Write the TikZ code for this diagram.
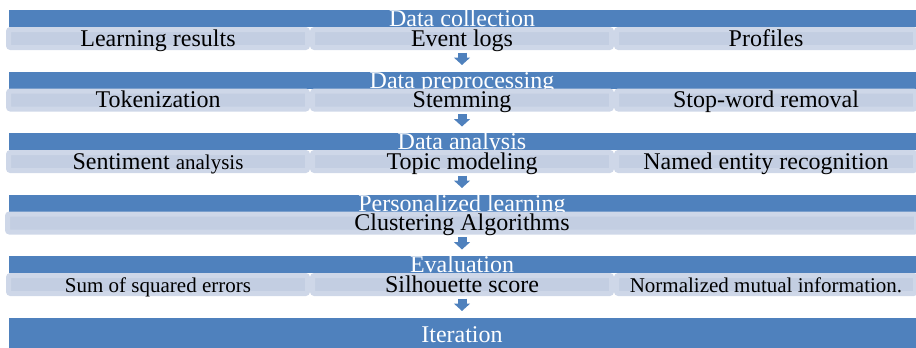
\documentclass[tikz,border=0pt]{standalone}
\usepackage{fontspec}
\setmainfont{Liberation Serif}
\usetikzlibrary{positioning, arrows.meta}

\definecolor{hdblue}{RGB}{79,129,189}
\definecolor{subfill}{RGB}{195,206,226}
\definecolor{subedge}{RGB}{206,215,232}

\newcommand{\smalltxt}{\fontsize{21}{22}\selectfont}

\begin{document}
\begin{tikzpicture}[x=1pt,y=-1pt,node distance=0pt]

		\tikzset{head st/.style={rectangle, fill=hdblue, text=white,
								minimum width=907pt, minimum height=17pt,
								inner sep=0pt, outer sep=0pt,
								text height=16.5pt, text depth=0.5pt,
								font=\fontsize{24}{24}\selectfont},
				 item st/.style={rectangle, rounded corners=2pt,
								draw=subedge, fill=subfill, line width=5pt,
								minimum width=299pt, minimum height=18pt,
								inner sep=0pt, text height=16.5pt, text depth=1.5pt,
								font=\fontsize{24}{24}\selectfont},
				 wide st/.style={item st, minimum width=909pt},
				 down arr/.style={-{Triangle[width=16pt,length=7.5pt]},
								line width=9pt, draw=hdblue}}

		\useasboundingbox (0,0) rectangle (916,348);

		% data collection
		\node[head st] (H1) at (462,18.5) {Data collection};
		\node[item st, below=of H1] (C2) {Event logs};
		\node[item st, left=of C2] (C1) {Learning results};
		\node[item st, right=of C2] (C3) {Profiles};

		% preprocessing
		\node[head st, below=21.5pt of C2] (H2) {Data preprocessing};
		\node[item st, below=of H2] (P2) {Stemming};
		\node[item st, left=of P2] (P1) {Tokenization};
		\node[item st, right=of P2] (P3) {Stop-word removal};

		% analysis
		\node[head st, below=21.5pt of P2] (H3) {Data analysis};
		\node[item st, below=of H3] (A2) {Topic modeling};
		\node[item st, left=of A2] (A1) {Sentiment {\smalltxt analysis}};
		\node[item st, right=of A2] (A3) {Named entity recognition};

		% personalized learning
		\node[head st, below=21.5pt of A2] (H4) {Personalized learning};
		\node[wide st, below=of H4] (L1) {Clustering Algorithms};

		% evaluation
		\node[head st, below=21.5pt of L1] (H5) {Evaluation};
		\node[item st, below=of H5] (V2) {Silhouette score};
		\node[item st, left=of V2] (V1) {\smalltxt Sum of squared errors};
		\node[item st, right=of V2] (V3) {\smalltxt Normalized mutual information.};

		% iteration
		\node[head st, below=22pt of V2, minimum height=31pt,
			  text height=24pt, text depth=7pt] (H6) {Iteration};

		\draw[down arr] ([yshift=-2.5pt]C2.south) -- ([yshift=6.5pt]H2.north);
		\draw[down arr] ([yshift=-2.5pt]P2.south) -- ([yshift=6.5pt]H3.north);
		\draw[down arr] ([yshift=-2.5pt]A2.south) -- ([yshift=6.5pt]H4.north);
		\draw[down arr] ([yshift=-2.5pt]L1.south) -- ([yshift=6.5pt]H5.north);
		\draw[down arr] ([yshift=-2.5pt]V2.south) -- ([yshift=7pt]H6.north);
\end{tikzpicture}
\end{document}
